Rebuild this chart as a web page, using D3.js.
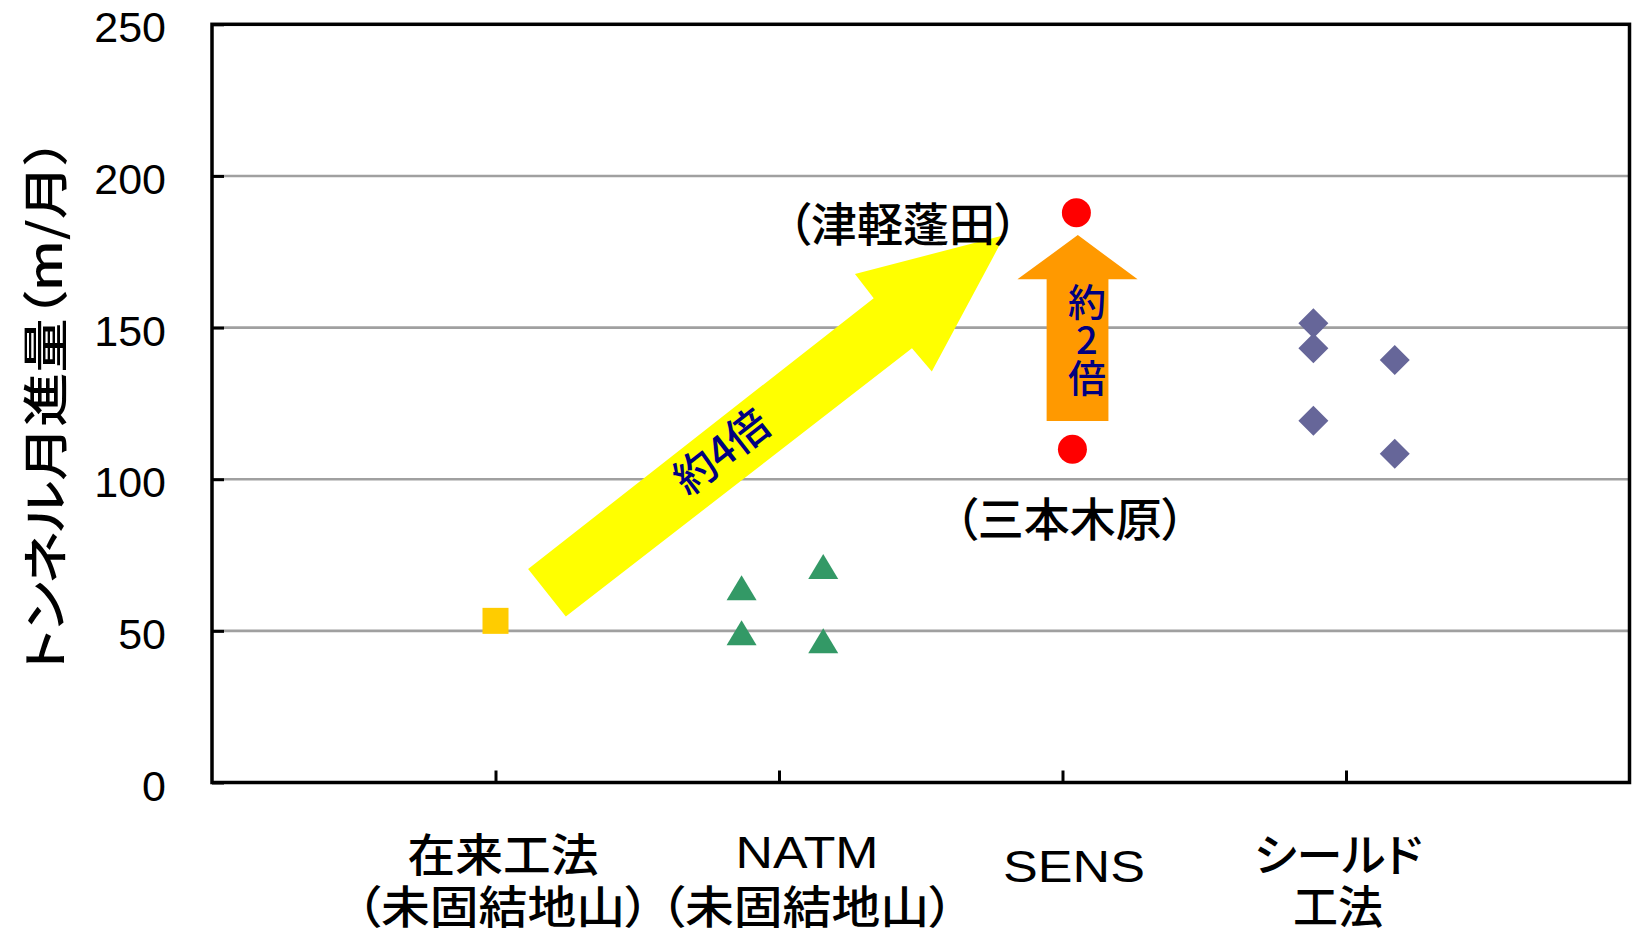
<!DOCTYPE html>
<html>
<head>
<meta charset="utf-8">
<script src="https://cdn.jsdelivr.net/npm/d3@7/dist/d3.min.js"></script>
<style>
  html, body { margin: 0; padding: 0; background: #fff; }
  svg { display: block; }
  .cjk { font-family: "Noto Sans CJK JP", "Noto Sans CJK SC", sans-serif; font-feature-settings: "palt"; font-weight: 500; }
  .latin { font-family: "Liberation Sans", Arial, sans-serif; }
</style>
</head>
<body>
<svg id="chart" width="1633" height="937"></svg>
<script>
// ---------- data ----------
const categories = ["在来工法", "NATM", "SENS", "シールド工法"];
const categoryPos = [1, 2, 3, 4];
const categoryLines = [["在来工法", "（未固結地山）"], ["NATM", "（未固結地山）"], ["SENS"], ["シールド", "工法"]];
const yTicks = [0, 50, 100, 150, 200, 250];

// series (x = category position incl. jitter, y = m/month)
const conventionalX = [1.0];
const conventionalY = [53.3];
const natmX = [1.868, 1.868, 2.156, 2.156];
const natmY = [64.2, 49.4, 71.2, 46.7];
const sensX = [3.049, 3.035];
const sensY = [187.9, 109.9];
const shieldX = [3.885, 3.885, 3.885, 4.172, 4.172];
const shieldY = [151.4, 143.2, 119.3, 139.3, 108.4];

// annotation arrows (data units)
const arrow4X = [1.115, 1.248, 2.469, 2.539, 2.797, 2.268, 2.334];
const arrow4Y = [70.4, 54.7, 143.2, 135.5, 180.5, 167.7, 159.7];
const arrow2X = [3.054, 3.265, 3.162, 3.162, 2.944, 2.944, 2.841];
const arrow2Y = [180.5, 165.9, 165.9, 119.2, 119.2, 165.9, 165.9];

// annotation texts
const noteTexts = ["（津軽蓬田）", "（三本木原）"];
const noteX = [2.437, 3.026];
const noteY = [185.1, 88.0];
const ratio4Text = "約4倍";
const ratio4Pos = [1.79, 110.0];
const ratio2Text = "約2倍";
const ratio2Pos = [3.086, 146.1];

const yTitle = "トンネル月進量（m/月）";

// ---------- layout ----------
const plot = { left: 212, right: 1629.5, top: 24.3, bottom: 782.5 };
const svg = d3.select("#chart");

const x = d3.scaleLinear().domain([0, 5]).range([plot.left, plot.right]);
const y = d3.scaleLinear().domain([0, 250]).range([plot.bottom, plot.top]);

// gridlines
svg.append("g").selectAll("line").data(yTicks.filter(d => d > 0 && d < 250)).join("line")
  .attr("x1", plot.left).attr("x2", plot.right)
  .attr("y1", d => y(d)).attr("y2", d => y(d))
  .attr("stroke", "#a0a0a0").attr("stroke-width", 2.6);

// y axis ticks (inward)
const yAxis = d3.axisRight(y).tickValues(yTicks).tickSize(12).tickFormat("");
const gy = svg.append("g").attr("transform", `translate(${plot.left},0)`).call(yAxis);
gy.select(".domain").remove();
gy.selectAll(".tick line").attr("stroke", "#000").attr("stroke-width", 3);

// x axis ticks (inward/up)
const xAxis = d3.axisTop(x).tickValues(categoryPos).tickSize(12).tickFormat("");
const gx = svg.append("g").attr("transform", `translate(0,${plot.bottom})`).call(xAxis);
gx.select(".domain").remove();
gx.selectAll(".tick line").attr("stroke", "#000").attr("stroke-width", 3);

// y tick labels
svg.append("g").selectAll("text").data(yTicks).join("text")
  .attr("class", "latin")
  .attr("x", 166).attr("y", d => y(d) + 18)
  .attr("text-anchor", "end")
  .attr("font-size", 43)
  .attr("fill", "#000")
  .text(d => d);

// plot frame
svg.append("rect")
  .attr("x", plot.left).attr("y", plot.top)
  .attr("width", plot.right - plot.left).attr("height", plot.bottom - plot.top)
  .attr("fill", "none").attr("stroke", "#000").attr("stroke-width", 3.5);

// arrows
const poly = (xs, ys) => xs.map((v, i) => [x(v), y(ys[i])]);
svg.append("path")
  .attr("d", d3.line()(poly(arrow4X, arrow4Y)) + "Z")
  .attr("fill", "#ffff00");
svg.append("path")
  .attr("d", d3.line()(poly(arrow2X, arrow2Y)) + "Z")
  .attr("fill", "#ff9900");

// markers
svg.append("g").selectAll("rect").data(conventionalX.map((v, i) => [v, conventionalY[i]])).join("rect")
  .attr("x", d => x(d[0]) - 13).attr("y", d => y(d[1]) - 13)
  .attr("width", 26).attr("height", 26)
  .attr("fill", "#ffcc00");

svg.append("g").selectAll("path").data(natmX.map((v, i) => [v, natmY[i]])).join("path")
  .attr("d", d => {
    const cx = x(d[0]), cy = y(d[1]);
    return `M${cx - 15},${cy + 12.5}L${cx},${cy - 12.5}L${cx + 15},${cy + 12.5}Z`;
  })
  .attr("fill", "#339966");

svg.append("g").selectAll("circle").data(sensX.map((v, i) => [v, sensY[i]])).join("circle")
  .attr("cx", d => x(d[0])).attr("cy", d => y(d[1])).attr("r", 14.5)
  .attr("fill", "#ff0000");

svg.append("g").selectAll("path").data(shieldX.map((v, i) => [v, shieldY[i]])).join("path")
  .attr("d", d => {
    const cx = x(d[0]), cy = y(d[1]);
    return `M${cx},${cy - 15}L${cx + 15},${cy}L${cx},${cy + 15}L${cx - 15},${cy}Z`;
  })
  .attr("fill", "#666699");

// annotation texts
const noteLen = [230, 230];
svg.append("g").selectAll("text").data(noteTexts).join("text")
  .attr("class", "cjk")
  .attr("x", (d, i) => x(noteX[i])).attr("y", (d, i) => y(noteY[i]))
  .attr("text-anchor", "middle").attr("dominant-baseline", "central")
  .attr("font-size", 46).attr("fill", "#000")
  .attr("textLength", (d, i) => noteLen[i]).attr("lengthAdjust", "spacingAndGlyphs")
  .text(d => d);

svg.append("text")
  .attr("class", "cjk")
  .attr("transform", `translate(${x(ratio4Pos[0])},${y(ratio4Pos[1])}) rotate(-38)`)
  .attr("text-anchor", "middle").attr("dominant-baseline", "central")
  .attr("font-size", 42).attr("fill", "#000080")
  .text(ratio4Text);

svg.append("text")
  .attr("class", "cjk")
  .attr("x", x(ratio2Pos[0])).attr("y", y(ratio2Pos[1]))
  .style("writing-mode", "vertical-rl")
  .style("text-orientation", "upright")
  .attr("text-anchor", "middle")
  .attr("font-size", 38).attr("fill", "#000080")
  .text(ratio2Text);

// y title
svg.append("text")
  .attr("class", "cjk")
  .attr("transform", `translate(41.5,405) rotate(-90)`)
  .attr("text-anchor", "middle").attr("dominant-baseline", "central")
  .attr("font-size", 46).attr("fill", "#000")
  .attr("textLength", 534).attr("lengthAdjust", "spacingAndGlyphs")
  .text(yTitle);

// x category labels
const labelDx = [7.5, 28, 11.5, -8];
const labelRowY = [852, 904];
const singleRowY = 866;
const labelWidths = {
  "在来工法": 191, "（未固結地山）": 293, "NATM": 143, "SENS": 142, "シールド": 168, "工法": 90
};
categoryLines.forEach((lines, ci) => {
  const t = svg.append("text")
    .attr("text-anchor", "middle")
    .attr("fill", "#000");
  lines.forEach((line, li) => {
    const isLatin = /^[A-Z]+$/.test(line);
    const cy = lines.length === 1 ? singleRowY : labelRowY[li];
    t.append("tspan")
      .attr("class", isLatin ? "latin" : "cjk")
      .attr("x", x(categoryPos[ci]) + labelDx[ci])
      .attr("y", isLatin ? cy + 16 : cy)
      .attr("dominant-baseline", isLatin ? "alphabetic" : "central")
      .attr("font-size", isLatin ? 44 : 45)
      .attr("textLength", labelWidths[line]).attr("lengthAdjust", "spacingAndGlyphs")
      .text(line);
  });
});
</script>
</body>
</html>
